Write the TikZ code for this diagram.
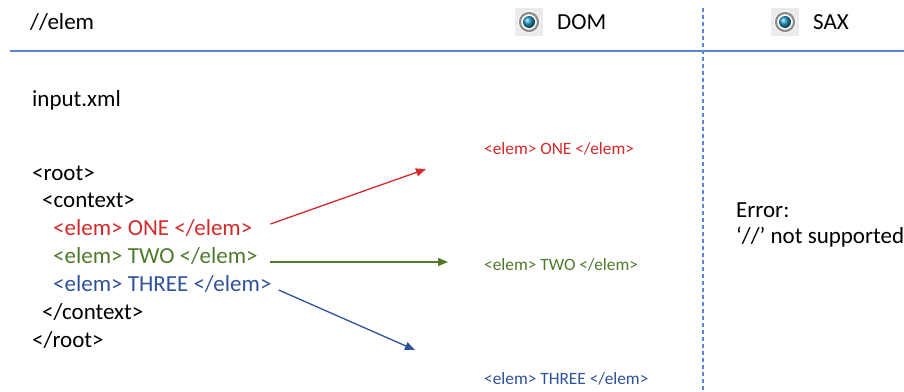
\documentclass[tikz,border=0pt]{standalone}
\usepackage{fontspec}
\setmainfont{Carlito}
\usetikzlibrary{arrows.meta}
\definecolor{cred}{HTML}{D42A2A}
\definecolor{cgreen}{HTML}{4F7A2C}
\definecolor{cblue}{HTML}{2F529A}
\definecolor{cline}{HTML}{5B84D4}
\tikzset{
  txt/.style={anchor=west, inner sep=0pt, font=\fontsize{23}{27}\selectfont},
  small/.style={anchor=west, inner sep=0pt, font=\fontsize{17.3}{20}\selectfont},
  arr/.style={line width=1.3pt, -{Triangle[length=10pt,width=8pt]}},
  radio/.pic={
    \fill[black!8] (-14,-14) rectangle (14,14);
    \fill[white] (0,0) circle (11);
    \draw[black!45, line width=2.2pt] (0,0) circle (9);
    \shade[ball color=cblue!60!cyan] (0,0) circle (6);
  }
}
\begin{document}
\begin{tikzpicture}[x=1pt,y=-1pt]
\useasboundingbox (0,0) rectangle (904,391);
\node[txt] (title) at (30,22) {//elem};
\draw[cline, line width=1.2pt] (10,51) -- (904,51);
\draw[cline, line width=1.2pt, dash pattern=on 4pt off 3pt] (703,8) -- (703,391);
\pic at (529,22) {radio};
\node[txt] (dom) at (557,22) {DOM};
\pic at (785,22) {radio};
\node[txt] (sax) at (813,22) {SAX};
\node[txt] (input) at (32,100) {input.xml};
\node[txt] (root) at (32,173) {<root>};
\node[txt] (ctx) at (42,200) {<context>};
\node[txt, text=cred] (one) at (53,228) {<elem> ONE </elem>};
\node[txt, text=cgreen] (two) at (53,256) {<elem> TWO </elem>};
\node[txt, text=cblue] (three) at (53,284) {<elem> THREE </elem>};
\node[txt] (ctxe) at (42,312) {</context>};
\node[txt] (roote) at (32,340) {</root>};
\node[small, text=cred] (r1) at (484,149) {<elem> ONE </elem>};
\node[small, text=cgreen] (r2) at (484,265) {<elem> TWO </elem>};
\node[small, text=cblue] (r3) at (484,379) {<elem> THREE </elem>};
\node[txt] (err) at (736,210) {Error:};
\node[txt] (ns) at (736,237) {‘//’ not supported};
\coordinate (e1) at (426,169);
\coordinate (e2) at (448,262);
\coordinate (e3) at (415,350);
\draw[arr, cred] ([shift={(18,-4)}]one.east) -- (e1);
\draw[arr, cgreen] ([shift={(12,6)}]two.east) -- (e2);
\draw[arr, cblue] ([shift={(7,6)}]three.east) -- (e3);
\end{tikzpicture}
\end{document}
